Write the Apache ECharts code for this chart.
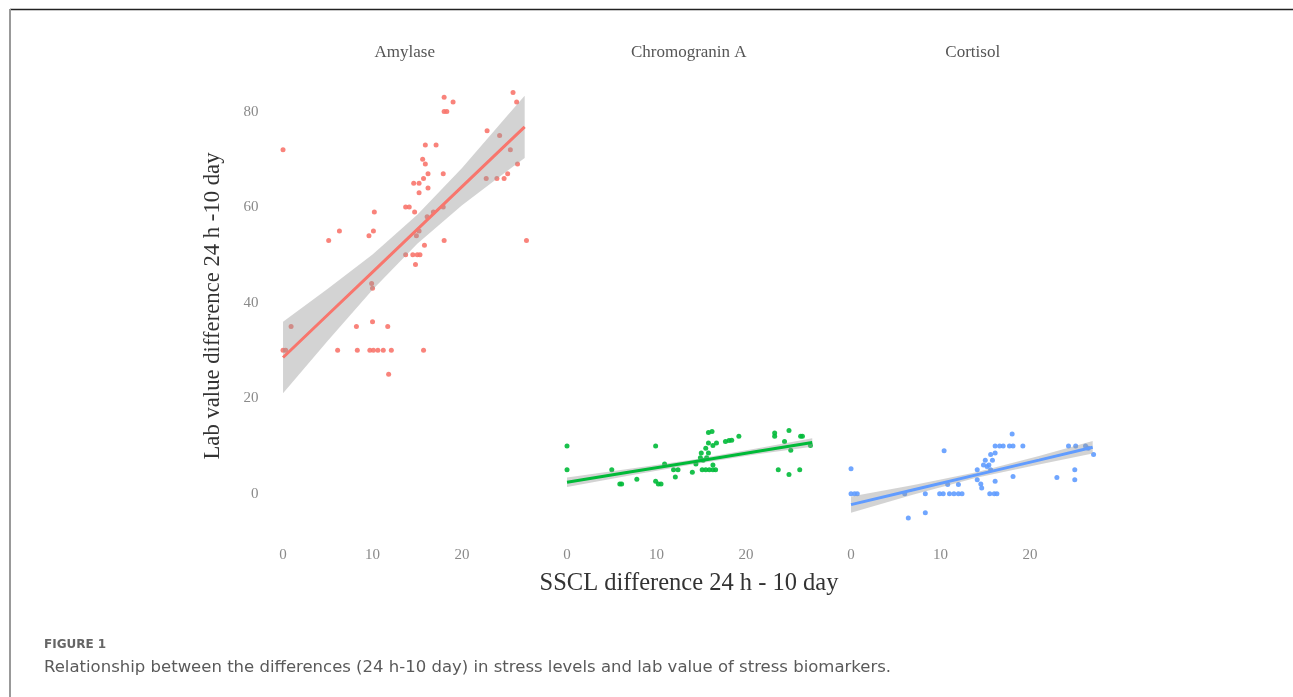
<!DOCTYPE html>
<html>
<head>
<meta charset="utf-8">
<script src="https://cdn.jsdelivr.net/npm/echarts@6/dist/echarts.min.js"></script>
<style>
  html, body { margin: 0; padding: 0; background: #fff; }
  #main { width: 1293px; height: 697px; }
</style>
</head>
<body>
<div id="main"></div>
<script>
var dom = document.getElementById("main");
var myChart = echarts.init(dom);

var panels = ['Amylase', 'Chromogranin A', 'Cortisol'];
var colors = ['#F8766D', '#00BA38', '#619CFF'];
var xTicks = [0, 10, 20];
var yTicks = [0, 20, 40, 60, 80];

// points
var amylaseX = [0, 18, 19, 18, 18.3, 25.7, 26.1, 22.8, 24.2, 25.4, 26.2, 25.1, 22.7, 23.9, 24.7, 27.2,
  15.9, 17.1, 15.6, 15.9, 16.2, 17.9, 15.7, 14.6, 15.2, 16.2, 15.2, 13.7, 14.1, 14.7, 16.1, 16.8, 17.9,
  10.2, 6.3, 5.1, 10.1, 9.6, 15.2, 14.9, 15.8, 18, 13.7, 14.5, 15, 15.3, 14.8, 9.9, 10, 0.9, 0, 0.3,
  8.2, 10, 11.7, 6.1, 8.3, 9.7, 10.1, 10.6, 11.2, 12.1, 15.7, 11.8];
var amylaseY = [72, 83, 82, 80, 80, 84, 82, 76, 75, 72, 69, 67, 66, 66, 66, 53,
  73, 73, 70, 69, 67, 67, 66, 65, 65, 64, 63, 60, 60, 59, 58, 59, 60,
  59, 55, 53, 55, 54, 55, 54, 52, 53, 50, 50, 50, 50, 48, 44, 43, 35, 30, 30,
  35, 36, 35, 30, 30, 30, 30, 30, 30, 30, 30, 25];

var chromoX = [0, 0, 5, 5.9, 6.1, 7.8, 9.9, 9.9, 10.2, 10.5, 10.9, 11.9, 12.4, 12.1, 14, 14.4, 15, 15.1,
  15.5, 15.9, 16.3, 16.6, 15.2, 15.6, 15.8, 16.2, 15.8, 16.3, 16.7, 16.3, 15.8, 17.7, 18.1, 18.4, 19.2,
  23.2, 23.2, 24.8, 24.3, 26.1, 26.3, 27.2, 25, 23.6, 24.8, 26, 14.9, 15.5];
var chromoY = [10, 5, 5, 2, 2, 3, 10, 2.6, 2, 2, 6.2, 5, 5, 3.5, 4.5, 6.2, 8.5, 5,
  5, 5, 5, 5, 7, 7.5, 12.8, 13, 10.6, 10.1, 10.6, 6, 8.5, 10.9, 11.1, 11.2, 12,
  12.7, 12, 13.2, 10.9, 12, 12, 10.1, 9.1, 5, 4, 5, 7.5, 9.5];

var cortisolX = [0, 0, 0.4, 0.7, 6.4, 8.3, 8.3, 6, 10.4, 9.9, 10.3, 11, 11.5, 12, 12.4, 10.8, 12,
  14.1, 14.1, 14.6, 14.5, 14.8, 15.4, 15, 15.6, 15.8, 15.2, 15.6, 16.1, 15.5, 16, 16.3, 16.1,
  16.1, 16.6, 17, 17.7, 18.1, 19.2, 18, 18.1, 23, 24.3, 25.1, 26.2, 25, 25, 27.1, 26.5];
var cortisolY = [5.2, 0, 0, 0, -5.1, -4, 0, 0, 9, 0, 0, 0, 0, 0, 0, 1.9, 1.9,
  5, 2.9, 1.2, 2, 6, 6, 7, 8.2, 7, 5.7, 5, 8.5, 0, 0, 0, 2.6,
  10, 10, 10, 10, 10, 10, 12.5, 3.6, 3.4, 10, 10, 10, 5, 2.9, 8.2, 9.5];

// fitted line with its confidence band
var amylaseFitX = [0, 5, 10, 15, 20, 25, 27];
var amylaseFit = [28.5, 37.45, 46.4, 55.35, 64.3, 73.25, 76.8];
var amylaseLo = [21.0, 32.0, 42.7, 52.3, 60.4, 67.5, 70.3];
var amylaseHi = [36.0, 42.9, 50.1, 58.4, 68.2, 79.0, 83.3];

var chromoFitX = [0, 7, 14, 21, 27.4];
var chromoFit = [2.4, 4.52, 6.64, 8.76, 10.7];
var chromoLo = [1.4, 3.8, 6.1, 8.2, 9.8];
var chromoHi = [3.4, 5.2, 7.1, 9.4, 11.6];

var cortisolFitX = [0, 7, 14, 21, 27];
var cortisolFit = [-2.3, 0.81, 3.92, 7.02, 9.7];
var cortisolLo = [-4.0, -0.2, 3.3, 6.1, 8.4];
var cortisolHi = [-0.6, 1.8, 4.5, 7.9, 11.0];

var ptsX = [amylaseX, chromoX, cortisolX];
var ptsY = [amylaseY, chromoY, cortisolY];
var fitX = [amylaseFitX, chromoFitX, cortisolFitX];
var fitY = [amylaseFit, chromoFit, cortisolFit];
var fitLo = [amylaseLo, chromoLo, cortisolLo];
var fitHi = [amylaseHi, chromoHi, cortisolHi];

var serif = '"Liberation Serif", "DejaVu Serif", serif';
var gridLefts = [270.5, 554.5, 838.5];

var grids = [], xAxes = [], yAxes = [], series = [], graphics = [];

gridLefts.forEach(function (left, i) {
  grids.push({ left: left, top: 71, width: 268.5, height: 468 });
  xAxes.push({
    type: 'value', gridIndex: i, min: -1.4, max: 28.6,
    axisLine: { show: false }, axisTick: { show: false }, splitLine: { show: false },
    axisLabel: { customValues: xTicks, color: '#8a8a8a', fontFamily: serif, fontSize: 15, margin: 9 }
  });
  yAxes.push({
    type: 'value', gridIndex: i, min: -9.5, max: 88.5,
    axisLine: { show: false }, axisTick: { show: false }, splitLine: { show: false },
    axisLabel: { show: i === 0, customValues: yTicks, color: '#8a8a8a', fontFamily: serif, fontSize: 15, margin: 12 }
  });

  var pts = ptsX[i].map(function (x, k) { return [x, ptsY[i][k]]; });
  series.push({
    type: 'scatter', xAxisIndex: i, yAxisIndex: i, data: pts,
    symbolSize: 5, itemStyle: { color: colors[i], opacity: 0.9 }, z: 2, silent: true
  });
  series.push({
    type: 'custom', xAxisIndex: i, yAxisIndex: i, silent: true, z: 3,
    data: [[fitX[i][0], fitLo[i][0]]],
    renderItem: function (params, api) {
      var p = [];
      for (var j = 0; j < fitX[i].length; j++) p.push(api.coord([fitX[i][j], fitHi[i][j]]));
      for (var j = fitX[i].length - 1; j >= 0; j--) p.push(api.coord([fitX[i][j], fitLo[i][j]]));
      return { type: 'polygon', shape: { points: p }, style: { fill: 'rgba(150,150,150,0.42)' } };
    }
  });
  series.push({
    type: 'line', xAxisIndex: i, yAxisIndex: i, silent: true, z: 4,
    data: fitX[i].map(function (x, k) { return [x, fitY[i][k]]; }),
    symbol: 'none', lineStyle: { color: colors[i], width: 3 }
  });

  graphics.push({
    type: 'text', x: left + 134.25, y: 53,
    style: { text: panels[i], fill: '#555', font: '17px ' + serif, textAlign: 'center', textVerticalAlign: 'middle' }
  });
});

graphics.push({
  type: 'text', x: 213, y: 306, rotation: Math.PI / 2,
  style: { text: 'Lab value difference 24 h -10 day', fill: '#333', font: '22.7px ' + serif, textAlign: 'center', textVerticalAlign: 'middle' }
});
graphics.push({
  type: 'text', x: 689, y: 584,
  style: { text: 'SSCL difference 24 h - 10 day', fill: '#333', font: '24.5px ' + serif, textAlign: 'center', textVerticalAlign: 'middle' }
});
graphics.push({
  type: 'text', x: 44, y: 645,
  style: { text: 'FIGURE 1', fill: '#666', font: 'bold 12px "DejaVu Sans", sans-serif', textVerticalAlign: 'middle' }
});
graphics.push({
  type: 'text', x: 44, y: 668,
  style: { text: 'Relationship between the differences (24 h-10 day) in stress levels and lab value of stress biomarkers.', fill: '#5a5a5a', font: '16.5px "DejaVu Sans", sans-serif', textVerticalAlign: 'middle' }
});
graphics.push({ type: 'line', shape: { x1: 10, y1: 9.5, x2: 1293, y2: 9.5 }, style: { stroke: '#222', lineWidth: 1.5 } });
graphics.push({ type: 'line', shape: { x1: 10, y1: 9, x2: 10, y2: 697 }, style: { stroke: '#999', lineWidth: 2 } });

var option = {
  animation: false,
  grid: grids,
  xAxis: xAxes,
  yAxis: yAxes,
  series: series,
  graphic: graphics
};

if (option && typeof option === "object") {
  myChart.setOption(option, true);
}
</script>
</body>
</html>
